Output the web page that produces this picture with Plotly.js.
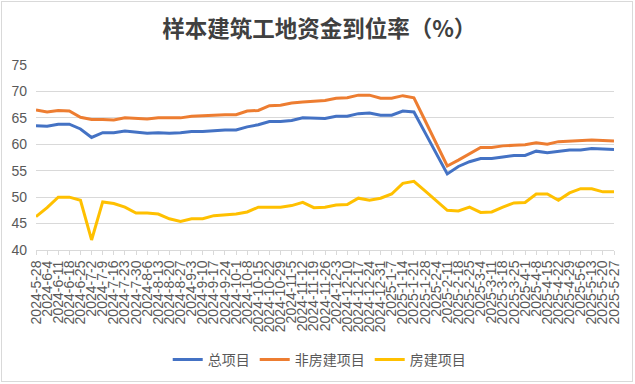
<!DOCTYPE html>
<html><head><meta charset="utf-8">
<script src="https://cdn.plot.ly/plotly-3.0.1.min.js"></script>
<style>
html,body{margin:0;padding:0;background:#fff;}
#chart{width:635px;height:384px;}
#frame{position:absolute;left:1px;top:1px;width:630px;height:379px;border:1px solid #d9d9d9;pointer-events:none;}
</style></head>
<body>
<div id="chart"></div>
<div id="frame"></div>
<script>
const dates = ["2024-5-28","2024-6-4","2024-6-11","2024-6-18","2024-6-25","2024-7-2","2024-7-9","2024-7-16","2024-7-23","2024-7-30",
"2024-8-6","2024-8-13","2024-8-20","2024-8-27","2024-9-3","2024-9-10","2024-9-17","2024-9-24","2024-10-1","2024-10-8",
"2024-10-15","2024-10-22","2024-10-29","2024-11-5","2024-11-12","2024-11-19","2024-11-26","2024-12-3","2024-12-10","2024-12-17",
"2024-12-24","2024-12-31","2025-1-7","2025-1-14","2025-1-21","2025-1-28","2025-2-4","2025-2-11","2025-2-18","2025-2-25",
"2025-3-4","2025-3-11","2025-3-18","2025-3-25","2025-4-1","2025-4-8","2025-4-15","2025-4-22","2025-4-29","2025-5-6",
"2025-5-13","2025-5-20","2025-5-27"];
const total = [63.5,63.4,63.8,63.8,62.9,61.3,62.2,62.2,62.5,62.3,62.1,62.2,62.1,62.2,62.4,62.4,62.6,62.7,62.7,63.3,
63.7,64.3,64.3,64.5,65.0,64.9,64.9,65.3,65.3,65.8,65.9,65.5,65.5,66.3,66.1,62.2,58.3,54.4,55.8,56.7,
57.3,57.3,57.6,57.9,57.9,58.7,58.4,58.7,58.9,58.9,59.2,59.1,59.0];
const nonHousing = [66.5,66.1,66.4,66.3,65.1,64.7,64.7,64.6,65.0,64.9,64.8,65.0,65.0,65.0,65.3,65.4,65.6,65.6,65.6,66.3,
66.4,67.3,67.4,67.8,68.0,68.1,68.3,68.7,68.8,69.3,69.3,68.7,68.7,69.2,68.8,64.5,60.2,55.9,57.0,58.2,
59.4,59.4,59.7,59.8,59.9,60.3,60.0,60.5,60.6,60.6,60.8,60.7,60.6];
const housing = [46.3,48.0,50.0,50.0,49.4,41.9,49.1,48.8,48.1,47.0,47.0,46.8,45.9,45.4,45.9,45.9,46.5,46.6,46.8,47.2,
48.1,48.1,48.1,48.4,49.0,48.0,48.1,48.5,48.6,49.8,49.4,49.8,50.6,52.6,53.0,51.2,49.3,47.5,47.4,48.1,
47.1,47.2,48.1,48.9,49.0,50.6,50.6,49.4,50.8,51.6,51.6,51.0,51.0];
const seriesNames = ["总项目","非房建项目","房建项目"];
const titleText = "样本建筑工地资金到位率（%）";

const colors = ["#4472C4","#ED7D31","#FFC000"];
const traces = [total, nonHousing, housing].map((y,k)=>({
  type:"scatter", mode:"lines", x:dates, y:y, name:seriesNames[k],
  line:{color:colors[k], width:3}
}));
const layout = {
  width:635, height:384,
  margin:{l:36, r:21, t:64.5, b:134},
  paper_bgcolor:"#fff", plot_bgcolor:"#fff",
  font:{family:"Liberation Sans, Noto Sans CJK SC, sans-serif", color:"#595959"},
  title:{text:"<b>"+titleText+"</b>", x:0.49, xref:"paper", xanchor:"center", y:0.925, yanchor:"middle",
         font:{family:"Noto Sans CJK SC", size:22.5, color:"#404040"}},
  xaxis:{type:"category", range:[0,52], tickmode:"linear", tick0:0, dtick:1, automargin:false,
         tickangle:-90, tickfont:{size:14, color:"#595959"},
         showgrid:false, showline:true, linecolor:"#d9d9d9", linewidth:1,
         ticks:"outside", ticklen:4, tickcolor:"#d9d9d9", zeroline:false},
  yaxis:{range:[40,75], dtick:5, tick0:40, showgrid:true, gridcolor:"#d9d9d9", gridwidth:1, automargin:false,
         zeroline:false, showline:false, tickfont:{size:14, color:"#595959"}, ticklabelstandoff:8},
  legend:{orientation:"h", x:0.49, xanchor:"center", xref:"paper", yref:"container", y:0.0625, yanchor:"middle",
          font:{family:"Noto Sans CJK SC", size:14, color:"#595959"}, itemwidth:30, traceorder:"normal"},
  showlegend:true
};
Plotly.newPlot("chart", traces, layout, {displayModeBar:false, staticPlot:true});
</script>
</body></html>
